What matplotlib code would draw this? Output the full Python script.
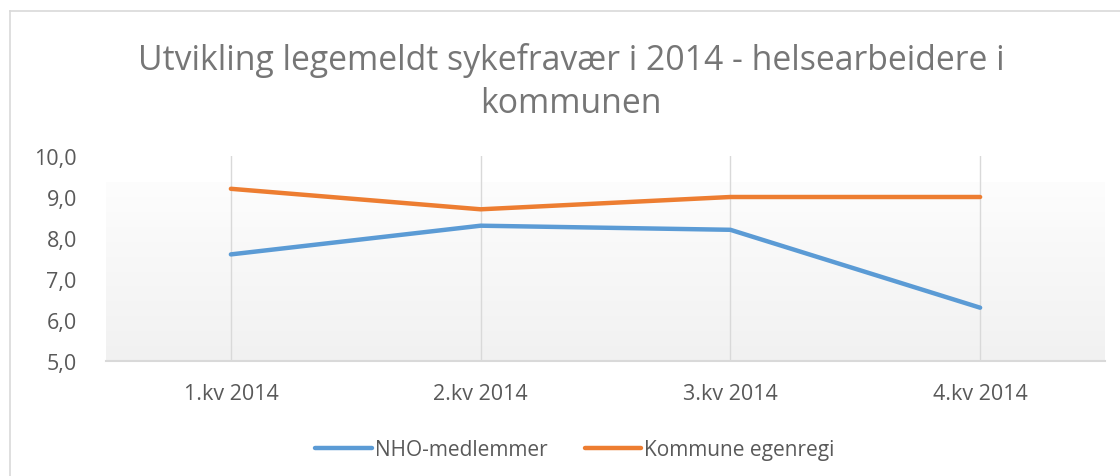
import matplotlib
matplotlib.use("Agg")
import matplotlib.pyplot as plt
import numpy as np
from matplotlib.colors import LinearSegmentedColormap
from matplotlib.lines import Line2D

# data
kvartaler = ["1.kv 2014", "2.kv 2014", "3.kv 2014", "4.kv 2014"]
nho = [7.6, 8.3, 8.2, 6.3]
kommune = [9.2, 8.7, 9.0, 9.0]
yticks = [5.0, 6.0, 7.0, 8.0, 9.0, 10.0]
tittel = "Utvikling legemeldt sykefravær i 2014 - helsearbeidere i\nkommunen"

plt.rcParams['font.family'] = ['Open Sans', 'DejaVu Sans']
tekstfarge = "#595959"

fig = plt.figure(figsize=(11.2, 4.77), dpi=100)
ax = fig.add_axes([106/1120, 1-362/477, (1105-106)/1120, (362-157)/477])

# bakgrunn med gradient
cmap = LinearSegmentedColormap.from_list("grad", ["#f1f1f1", "#fdfdfd"])
grad = np.linspace(0, 1, 256).reshape(-1, 1)
ax.imshow(grad, cmap=cmap, aspect="auto", origin="lower",
          extent=[0, 1, 0, 0.873], transform=ax.transAxes, zorder=0)

x = np.arange(len(kvartaler))
for xi in x:
    ax.axvline(xi, color="#d9d9d9", lw=1, zorder=1)

ax.plot(x, nho, color="#5B9BD5", lw=3.2, solid_capstyle="round", zorder=3, label="NHO-medlemmer")
ax.plot(x, kommune, color="#ED7D31", lw=3.2, solid_capstyle="round", zorder=3, label="Kommune egenregi")

ax.set_xlim(-0.5, len(kvartaler) - 0.5)
ax.set_ylim(5, 10)
ax.set_xticks(x)
ax.set_xticklabels(kvartaler, fontsize=15.5, color=tekstfarge)
ax.set_yticks(yticks)
ax.set_yticklabels([f"{v:.1f}".replace(".", ",") for v in yticks], fontsize=15.5, color=tekstfarge)
ax.tick_params(length=0, pad=16)
ax.tick_params(axis="y", pad=21)
for s in ["top", "right", "left"]:
    ax.spines[s].set_visible(False)
ax.spines["bottom"].set_color("#d9d9d9")
ax.spines["bottom"].set_linewidth(1.5)

fig.text(0.51, 1-82/477, tittel, ha="center", va="center", fontsize=24.3,
         color="#767676", linespacing=1.32)

fig.legend(loc="center", bbox_to_anchor=(575/1120, 1-451/477), ncol=2, frameon=False,
           fontsize=15, handlelength=2.7, handletextpad=0.15, columnspacing=1.8,
           labelcolor=tekstfarge)

# ramme rundt diagrammet
fig.add_artist(Line2D([10/1120, 1], [1-12/477, 1-12/477], color="#d9d9d9", lw=1.2))
fig.add_artist(Line2D([10/1120, 10/1120], [0, 1-12/477], color="#d9d9d9", lw=1.2))

fig.savefig("out.png", dpi=100)
